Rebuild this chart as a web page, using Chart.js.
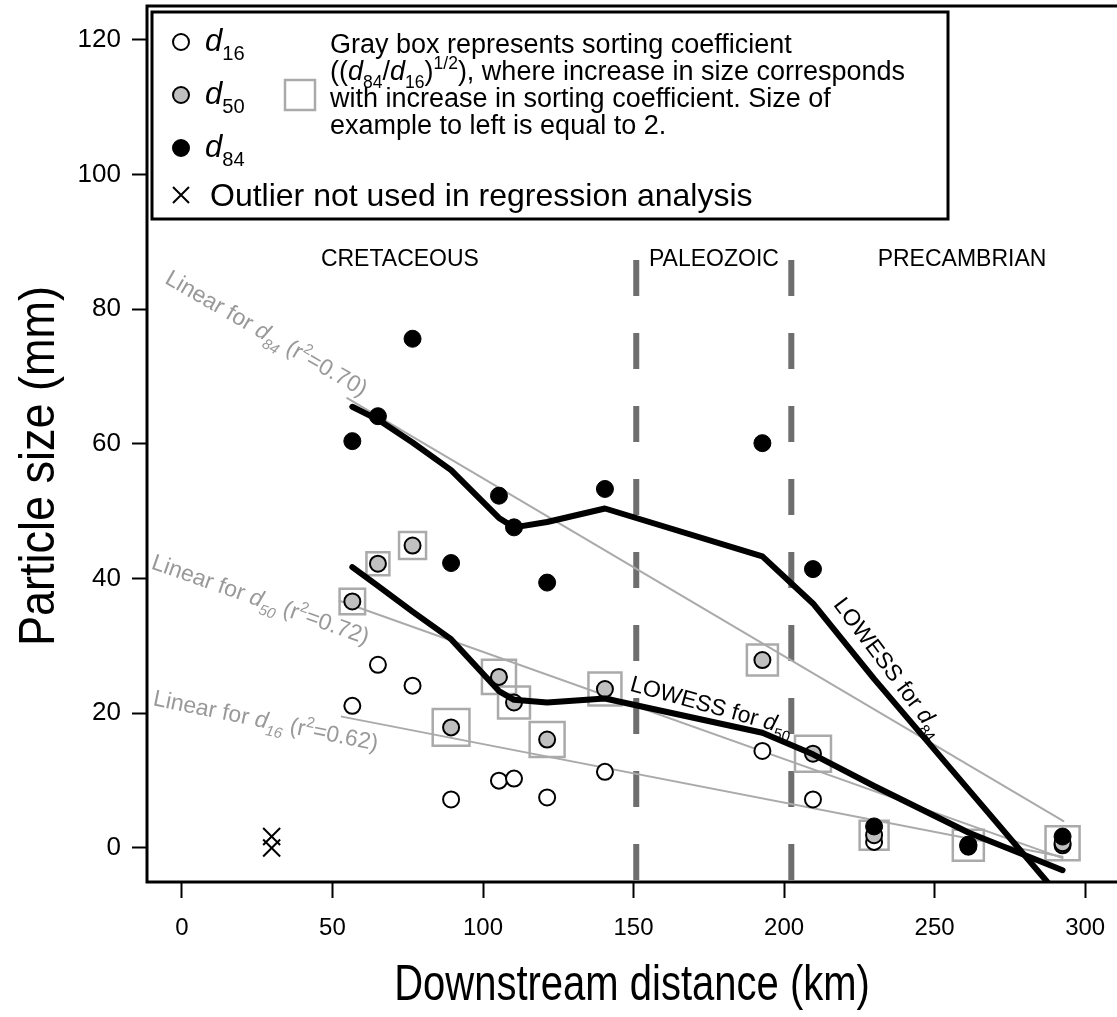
<!DOCTYPE html>
<html>
<head>
<meta charset="utf-8">
<script src="https://cdn.jsdelivr.net/npm/chart.js@4.4.1/dist/chart.umd.min.js"></script>
<style>
  html, body { margin: 0; padding: 0; background: #fff; overflow: hidden; }
  #wrap { position: relative; width: 1160px; height: 1017px; }
</style>
</head>
<body>
<div id="wrap"><canvas id="chart" width="1160" height="1017"></canvas></div>
<script>
// sampling sites (downstream distance, km)
const distance = [56.6, 65.1, 76.6, 89.4, 105.3, 110.3, 121.3, 140.5, 192.8, 209.6, 229.9, 261.2, 292.5];
const d16 = [21.1, 27.2, 24.1, 7.2, 10.0, 10.3, 7.5, 11.3, 14.4, 7.2, 0.9, 0.2, 0.4];
const d50 = [36.6, 42.2, 44.9, 17.9, 25.4, 21.6, 16.1, 23.6, 27.9, 14.0, 1.9, 0.4, 0.7];
const d84 = [60.4, 64.1, 75.6, 42.3, 52.3, 47.6, 39.4, 53.3, 60.1, 41.4, 3.2, 0.5, 1.7];
// sorting coefficient (d84/d16)^1/2
const sorting = [1.7, 1.53, 1.8, 2.45, 2.27, 2.13, 2.33, 2.2, 2.07, 2.4, 1.93, 2.07, 2.27];

// outlier site
const outlierX = [29.8, 29.8];
const outlierY = [1.7, 0.0];

// LOWESS curves (at the site distances)
const lowessD84 = [65.5, 63.6, 60.2, 56.1, 49.0, 47.6, 48.4, 50.4, 43.3, 36.3, 25.1, 8.7, -7.7];
const lowessD50 = [41.7, 38.9, 35.1, 31.0, 23.3, 22.0, 21.6, 22.2, 17.1, 13.9, 9.2, 2.3, -3.3];

// linear fits, end points
const linD84X = [54.9, 292.8], linD84Y = [66.8, 4.0];
const linD50X = [52.3, 292.5], linD50Y = [36.7, -1.5];
const linD16X = [53.1, 292.5], linD16Y = [19.5, -1.3];

// geologic boundaries
const boundaries = [150.9, 202.4];
const periods = ['CRETACEOUS', 'PALEOZOIC', 'PRECAMBRIAN'];
const periodX = [72.4, 176.7, 259.1];

const xTicks = [0, 50, 100, 150, 200, 250, 300];
const yTicks = [0, 20, 40, 60, 80, 100, 120];

const pts = (xs, ys) => xs.map((v, i) => ({x: v, y: ys[i]}));
const FONT = "'Liberation Sans', Arial, sans-serif";

// rich text: [text, kind] kind = n | i | sub | sup | isub
function richParts(ctx, parts, size) {
  let w = 0;
  const out = parts.map(([t, k]) => {
    let s = size, dy = 0, style = '';
    if (k === 'i') style = 'italic ';
    if (k === 'sub' || k === 'isub') { s = size * 0.65; dy = size * 0.3; }
    if (k === 'isub') style = 'italic ';
    if (k === 'sup') { s = size * 0.65; dy = -size * 0.42; }
    const font = style + s + 'px ' + FONT;
    ctx.font = font;
    const tw = ctx.measureText(t).width;
    const p = {t, font, x: w, dy};
    w += tw;
    return p;
  });
  return {out, w};
}
function drawRich(ctx, parts, size, x, y, align) {
  const r = richParts(ctx, parts, size);
  const x0 = align === 'center' ? x - r.w / 2 : x;
  ctx.textBaseline = 'alphabetic';
  ctx.textAlign = 'left';
  r.out.forEach(p => { ctx.font = p.font; ctx.fillText(p.t, x0 + p.x, y + p.dy); });
}

const lineLabels = [
  {x: 28.2, y: 76.5, angle: 30, color: '#999', size: 23,
   parts: [['Linear for ', 'n'], ['d', 'i'], ['84', 'isub'], [' (r', 'n'], ['2', 'sup'], ['=0.70)', 'n']]},
  {x: 26.2, y: 37.0, angle: 19.5, color: '#999', size: 23,
   parts: [['Linear for ', 'n'], ['d', 'i'], ['50', 'isub'], [' (r', 'n'], ['2', 'sup'], ['=0.72)', 'n']]},
  {x: 27.9, y: 19.0, angle: 11.5, color: '#999', size: 23,
   parts: [['Linear for ', 'n'], ['d', 'i'], ['16', 'isub'], [' (r', 'n'], ['2', 'sup'], ['=0.62)', 'n']]},
  {x: 176, y: 21.2, angle: 15.5, color: '#000', size: 23,
   parts: [['LOWESS for ', 'n'], ['d', 'i'], ['50', 'sub']]},
  {x: 235, y: 26.9, angle: 53, color: '#000', size: 23,
   parts: [['LOWESS for ', 'n'], ['d', 'i'], ['84', 'sub']]}
];

const annot = {
  id: 'annot',
  afterDraw(chart) {
    const {ctx, chartArea: a, scales: {x, y}} = chart;
    ctx.save();
    // plot frame
    ctx.strokeStyle = '#000';
    ctx.lineWidth = 3;
    ctx.strokeRect(a.left, a.top, a.right - a.left, a.bottom - a.top);

    // axis titles (narrow face)
    ctx.fillStyle = '#000';
    ctx.textAlign = 'center';
    ctx.textBaseline = 'middle';
    ctx.font = '50px ' + FONT;
    ctx.save();
    ctx.translate(632, 986);
    ctx.scale(0.8, 1);
    ctx.fillText('Downstream distance (km)', 0, 0);
    ctx.restore();
    ctx.save();
    ctx.translate(40, 466);
    ctx.rotate(-Math.PI / 2);
    ctx.scale(0.9, 1);
    ctx.fillText('Particle size (mm)', 0, 0);
    ctx.restore();

    // period names
    ctx.font = '23px ' + FONT;
    periods.forEach((p, i) => ctx.fillText(p, x.getPixelForValue(periodX[i]), y.getPixelForValue(87.3)));

    // line labels
    lineLabels.forEach(l => {
      ctx.save();
      ctx.translate(x.getPixelForValue(l.x), y.getPixelForValue(l.y));
      ctx.rotate(l.angle * Math.PI / 180);
      ctx.fillStyle = l.color;
      drawRich(ctx, l.parts, l.size, 0, l.size * 0.35, 'center');
      ctx.restore();
    });

    // legend
    const L = {x: 152, y: 12, w: 796, h: 207};
    ctx.fillStyle = '#fff';
    ctx.fillRect(L.x, L.y, L.w, L.h);
    ctx.lineWidth = 3;
    ctx.strokeStyle = '#000';
    ctx.strokeRect(L.x, L.y, L.w, L.h);

    const rows = [['16', '#fff', 42], ['50', '#c0c0c0', 95], ['84', '#000', 148]];
    rows.forEach(([s, fill, cy]) => {
      ctx.beginPath();
      ctx.arc(181, cy, 8, 0, Math.PI * 2);
      ctx.fillStyle = fill;
      ctx.fill();
      ctx.lineWidth = 2;
      ctx.strokeStyle = '#000';
      ctx.stroke();
      ctx.fillStyle = '#000';
      drawRich(ctx, [['d', 'i'], [s, 'sub']], 31, 205, cy + 9, 'left');
    });
    ctx.strokeStyle = '#aaa';
    ctx.lineWidth = 2.5;
    ctx.strokeRect(285, 80, 30, 30);

    ctx.fillStyle = '#000';
    const tx = 330, ts = 27;
    drawRich(ctx, [['Gray box represents sorting coefficient', 'n']], ts, tx, 53, 'left');
    drawRich(ctx, [['((', 'n'], ['d', 'i'], ['84', 'sub'], ['/', 'n'], ['d', 'i'], ['16', 'sub'], [')', 'n'], ['1/2', 'sup'], ['), where increase in size corresponds', 'n']], ts, tx, 80, 'left');
    drawRich(ctx, [['with increase in sorting coefficient. Size of', 'n']], ts, tx, 107, 'left');
    drawRich(ctx, [['example to left is equal to 2.', 'n']], ts, tx, 134, 'left');

    ctx.strokeStyle = '#000';
    ctx.lineWidth = 2;
    ctx.beginPath();
    ctx.moveTo(173, 187); ctx.lineTo(189, 203);
    ctx.moveTo(189, 187); ctx.lineTo(173, 203);
    ctx.stroke();
    drawRich(ctx, [['Outlier not used in regression analysis', 'n']], 32, 210, 206, 'left');
    ctx.restore();
  }
};

const lineDs = (data, color, width, order, extra) => Object.assign({
  type: 'line', data, borderColor: color, borderWidth: width, pointRadius: 0,
  fill: false, tension: 0, order, borderCapStyle: 'round', borderJoinStyle: 'round'
}, extra || {});

new Chart(document.getElementById('chart'), {
  type: 'scatter',
  data: {
    datasets: [
      lineDs(pts([boundaries[0], boundaries[0]], [87.3, -8]), '#6e6e6e', 6, 20, {borderDash: [36, 37], borderCapStyle: 'butt'}),
      lineDs(pts([boundaries[1], boundaries[1]], [87.3, -8]), '#6e6e6e', 6, 20, {borderDash: [36, 37], borderCapStyle: 'butt'}),
      {
        data: pts(distance, d50), order: 19, pointStyle: 'rect',
        pointRadius: ctx => sorting[ctx.dataIndex] * 15 / Math.SQRT2,
        pointBackgroundColor: 'rgba(0,0,0,0)', pointBorderColor: '#aaa', pointBorderWidth: 2.5
      },
      lineDs(pts(linD84X, linD84Y), '#aaa', 2, 18),
      lineDs(pts(linD50X, linD50Y), '#aaa', 2, 18),
      lineDs(pts(linD16X, linD16Y), '#aaa', 2, 18),
      {data: pts(distance, d16), order: 17, pointRadius: 8, pointBackgroundColor: '#fff', pointBorderColor: '#000', pointBorderWidth: 2},
      {data: pts(distance, d50), order: 16, pointRadius: 8, pointBackgroundColor: '#c0c0c0', pointBorderColor: '#000', pointBorderWidth: 2},
      {data: pts(distance, d84), order: 15, pointRadius: 8.5, pointBackgroundColor: '#000', pointBorderColor: '#000', pointBorderWidth: 1},
      lineDs(pts(distance, lowessD84), '#000', 6, 14),
      lineDs(pts(distance, lowessD50), '#000', 6, 14),
      {data: pts(outlierX, outlierY), order: 13, pointStyle: 'crossRot', pointRadius: 12, pointBorderColor: '#000', pointBorderWidth: 2}
    ]
  },
  options: {
    responsive: false,
    animation: false,
    events: [],
    layout: {autoPadding: false, padding: {top: 6, right: 5, left: 0, bottom: 0}},
    plugins: {legend: {display: false}, tooltip: {enabled: false}},
    scales: {
      x: {
        type: 'linear', min: -11.6, max: 323.2,
        afterFit: s => { s.height = 135; s.paddingLeft = 0; s.paddingRight = 0; },
        afterBuildTicks: s => { s.ticks = xTicks.map(v => ({value: v})); },
        grid: {display: true, drawOnChartArea: false, tickLength: 16, tickWidth: 2, tickColor: '#000'},
        border: {display: false},
        ticks: {font: {family: FONT, size: 24}, color: '#000', padding: 16, maxRotation: 0}
      },
      y: {
        type: 'linear', min: -5.05, max: 125,
        afterFit: s => { s.width = 147; s.paddingTop = 0; s.paddingBottom = 0; },
        afterBuildTicks: s => { s.ticks = yTicks.map(v => ({value: v})); },
        grid: {display: true, drawOnChartArea: false, tickLength: 15, tickWidth: 2, tickColor: '#000'},
        border: {display: false},
        ticks: {font: {family: FONT, size: 26}, color: '#000', padding: 11}
      }
    }
  },
  plugins: [annot]
});
</script>
</body>
</html>
